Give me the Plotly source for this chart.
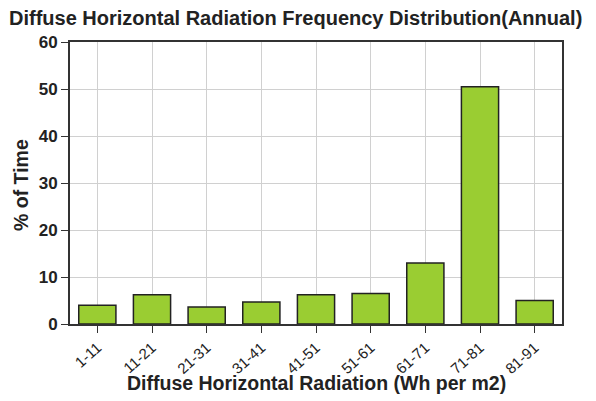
import plotly.graph_objects as go

categories = ["1-11", "11-21", "21-31", "31-41", "41-51", "51-61", "61-71", "71-81", "81-91"]
percent_time = [4.0, 6.2, 3.6, 4.7, 6.2, 6.5, 13.0, 50.5, 5.0]
y_ticks = [0, 10, 20, 30, 40, 50, 60]

font = "Liberation Sans, Arial, sans-serif"
W, H = 588, 393  # page body has an 8px margin

fig = go.Figure(go.Bar(
    x=categories, y=percent_time,
    marker=dict(color="#9acd32", line=dict(color="#222222", width=1.5)),
))

fig.update_layout(
    width=W, height=H,
    margin=dict(l=62, r=34, t=34, b=77),
    plot_bgcolor="white", paper_bgcolor="white",
    bargap=0.32,
    showlegend=False,
    title=dict(text="<b>Diffuse Horizontal Radiation Frequency Distribution(Annual)</b>",
               x=1 / W, xanchor="left", y=1 - 10 / H, yanchor="middle",
               font=dict(family=font, size=20, color="#222222")),
    font=dict(family=font, color="#222222"),
    annotations=[
        dict(text="<b>Diffuse Horizontal Radiation (Wh per m2)</b>",
             xref="paper", yref="paper", x=0.5, y=0, yshift=-59,
             xanchor="center", yanchor="middle", showarrow=False,
             font=dict(size=19.5, family=font, color="#222222")),
        dict(text="<b>% of Time</b>",
             xref="paper", yref="paper", x=0, xshift=-49, y=0.5, yshift=-2,
             xanchor="center", yanchor="middle", showarrow=False, textangle=-90,
             font=dict(size=19.5, family=font, color="#222222")),
    ],
)

fig.update_xaxes(
    automargin=False,
    showgrid=True, gridcolor="#d0d0d0", gridwidth=1,
    showline=True, linecolor="#333333", linewidth=2, mirror=True,
    ticks="outside", ticklen=7, tickcolor="#333333",
    tickangle=-42, tickfont=dict(size=15, family=font, color="#222222"),
)
fig.update_yaxes(
    automargin=False,
    range=[0, 60], tickvals=y_ticks, ticktext=[f"<b>{v}</b>" for v in y_ticks],
    showgrid=True, gridcolor="#d0d0d0", gridwidth=1,
    showline=True, linecolor="#333333", linewidth=2, mirror=True,
    ticks="outside", ticklen=7, tickcolor="#333333",
    tickfont=dict(size=17, family=font, color="#222222"),
    zeroline=False,
)

fig.write_html("out.html")
